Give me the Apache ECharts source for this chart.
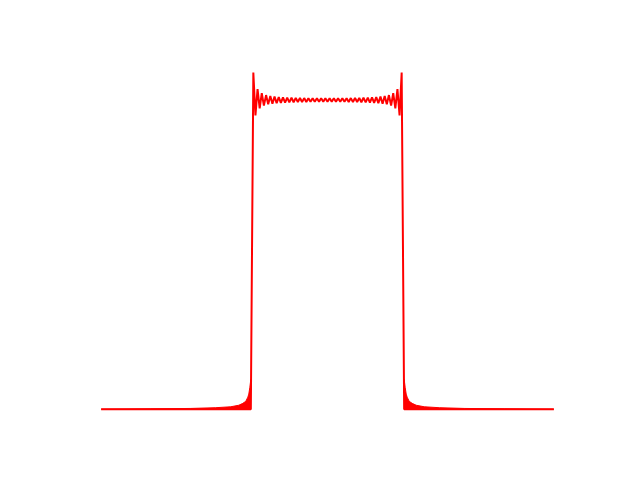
<!DOCTYPE html>
<html>
<head>
<meta charset="utf-8">
<script src="https://cdn.jsdelivr.net/npm/echarts@6/dist/echarts.min.js"></script>
<style>html,body{margin:0;padding:0;background:#fff}#c{width:640px;height:480px}</style>
</head>
<body>
<div id="c"></div>
<script>
// Baseline + edges (x in units where the pulse spans about -1..1)
const baseX = [-3, -1.016, 1.016, 3];
const baseY = [0, 0, 0, 0];

// Plateau extrema (Gibbs ripples)
const plateauX = [-0.983, -0.955, -0.927, -0.899, -0.871, -0.843, -0.814, -0.786, -0.758, -0.730,
  -0.702, -0.674, -0.646, -0.618, -0.590, -0.562, -0.534, -0.506, -0.477, -0.449,
  -0.421, -0.393, -0.365, -0.337, -0.309, -0.281, -0.253, -0.225, -0.197, -0.169,
  -0.140, -0.112, -0.084, -0.056, -0.028, 0.000, 0.028, 0.056, 0.084, 0.112,
  0.140, 0.169, 0.197, 0.225, 0.253, 0.281, 0.309, 0.337, 0.365, 0.393,
  0.421, 0.449, 0.477, 0.506, 0.534, 0.562, 0.590, 0.618, 0.646, 0.674,
  0.702, 0.730, 0.758, 0.786, 0.814, 0.843, 0.871, 0.899, 0.927, 0.955, 0.983];
const plateauY = [1.089, 0.950, 1.035, 0.973, 1.022, 0.982, 1.016, 0.986, 1.013, 0.988,
  1.011, 0.990, 1.0095, 0.991, 1.0085, 0.9919, 1.0078, 0.9925, 1.0072, 0.993,
  1.0068, 0.9934, 1.0065, 0.9937, 1.0062, 0.9939, 1.006, 0.9941, 1.0059, 0.9942,
  1.0057, 0.9943, 1.0057, 0.9944, 1.0056, 0.9944, 1.0056, 0.9944, 1.0057, 0.9943,
  1.0057, 0.9942, 1.0059, 0.9941, 1.006, 0.9939, 1.0062, 0.9937, 1.0065, 0.9934,
  1.0068, 0.993, 1.0072, 0.9925, 1.0078, 0.9919, 1.0085, 0.991, 1.0095, 0.990,
  1.011, 0.988, 1.013, 0.986, 1.016, 0.982, 1.022, 0.973, 1.035, 0.950, 1.089];

// Dense oscillating tails just outside the edges (envelope, drawn filled)
const leftTailX = [-3.0, -2.344, -1.813, -1.481, -1.282, -1.175, -1.122, -1.082, -1.056, -1.043, -1.029, -1.016];
const leftTailY = [0, 0.0013, 0.0026, 0.005, 0.008, 0.013, 0.019, 0.026, 0.039, 0.049, 0.071, 0.097];
const rightTailX = [1.016, 1.029, 1.043, 1.056, 1.082, 1.122, 1.175, 1.282, 1.481, 1.813, 2.344, 3.0];
const rightTailY = [0.097, 0.071, 0.049, 0.039, 0.026, 0.019, 0.013, 0.008, 0.005, 0.0026, 0.0013, 0];

const mainData = [];
mainData.push([baseX[0], baseY[0]], [baseX[1], baseY[1]]);
plateauX.forEach((x, i) => mainData.push([x, plateauY[i]]));
mainData.push([baseX[2], baseY[2]], [baseX[3], baseY[3]]);

const leftTail = leftTailX.map((x, i) => [x, leftTailY[i]]);
const rightTail = rightTailX.map((x, i) => [x, rightTailY[i]]);

const chart = echarts.init(document.getElementById('c'), null, {renderer: 'canvas'});
const tailSeries = (d) => ({
  type: 'line', data: d, symbol: 'none', silent: true,
  lineStyle: {color: '#ff0000', width: 1},
  areaStyle: {color: '#ff0000', opacity: 1},
  z: 1
});
chart.setOption({
  animation: false,
  backgroundColor: '#ffffff',
  grid: {left: 78.5, width: 498, top: 55.5, height: 370.6, containLabel: false},
  xAxis: {type: 'value', min: -3.3, max: 3.3, show: false},
  yAxis: {type: 'value', min: -0.0545, max: 1.144, show: false},
  series: [
    tailSeries(leftTail),
    tailSeries(rightTail),
    {
      type: 'line', data: mainData, symbol: 'none', silent: true,
      lineStyle: {color: '#ff0000', width: 2},
      z: 2
    }
  ]
});
</script>
</body>
</html>
